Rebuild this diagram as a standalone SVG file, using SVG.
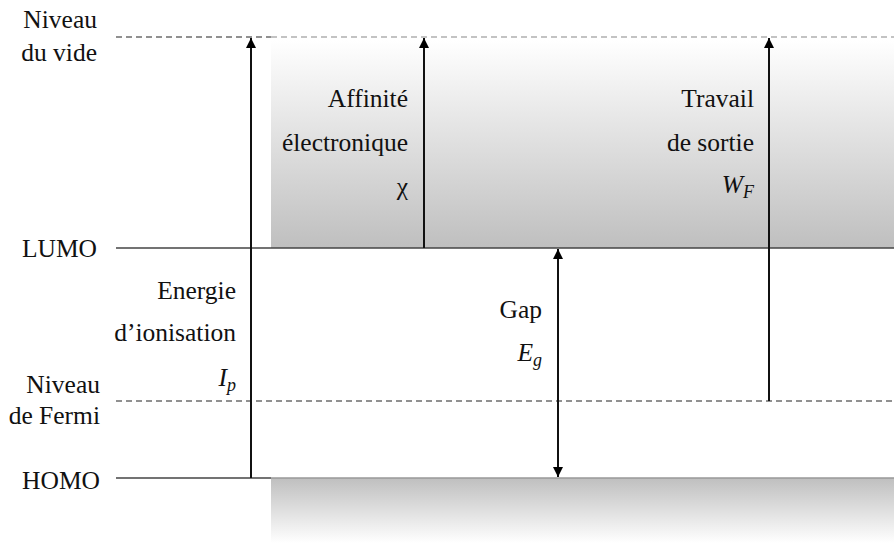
<svg xmlns="http://www.w3.org/2000/svg" width="894" height="543" viewBox="0 0 894 543">
<defs>
<linearGradient id="gTop" x1="0" y1="0" x2="0" y2="1">
<stop offset="0" stop-color="#ffffff"/>
<stop offset="1" stop-color="#bfbfbf"/>
</linearGradient>
<linearGradient id="gBot" x1="0" y1="0" x2="0" y2="1">
<stop offset="0" stop-color="#bfbfbf"/>
<stop offset="1" stop-color="#ffffff"/>
</linearGradient>
<marker id="ah" viewBox="0 0 10 10" refX="10" refY="5" markerWidth="10" markerHeight="10" markerUnits="userSpaceOnUse" orient="auto-start-reverse">
<path d="M0,0 L10,5 L0,10 z" fill="#000"/>
</marker>
<style>
.t{font-family:'Liberation Serif','Times New Roman',serif;font-size:25.5px;fill:#111;}
.r{text-anchor:end;}
.i{font-style:italic;}
.lvl{stroke:#444;stroke-width:1.6;fill:none;}
.dash{stroke:#222;stroke-width:1.2;stroke-dasharray:6,4;fill:none;}
.dashl{stroke:#888;stroke-width:1.2;stroke-dasharray:6,4;fill:none;}
.arr{stroke:#111;stroke-width:2;fill:none;}
</style>
</defs>
<g id="bands">
<rect x="271" y="40" width="623" height="208" fill="url(#gTop)"/>
<rect x="271" y="478" width="623" height="65" fill="url(#gBot)"/>
</g>
<g id="levels">
<line class="dash" x1="116" y1="37" x2="271" y2="37"/>
<line class="dashl" x1="271" y1="37" x2="894" y2="37"/>
<line class="lvl" x1="116" y1="248" x2="894" y2="248"/>
<line class="dash" x1="116" y1="401" x2="894" y2="401"/>
<line class="lvl" x1="116" y1="478" x2="271" y2="478"/>
<line x1="271" y1="478" x2="894" y2="478" stroke="#999" stroke-width="1.6"/>
</g>
<g id="connectors">
<line class="arr" x1="251" y1="478" x2="251" y2="38" marker-end="url(#ah)"/>
<line class="arr" x1="424" y1="248" x2="424" y2="38" stroke="#333" marker-end="url(#ah)"/>
<line class="arr" x1="769" y1="401" x2="769" y2="38" marker-end="url(#ah)"/>
<line class="arr" x1="558" y1="249" x2="558" y2="477" marker-start="url(#ah)" marker-end="url(#ah)"/>
</g>
<g>
<g id="label-vide">
<text class="t r" x="97" y="28">Niveau</text>
<text class="t r" x="97" y="61">du vide</text>
</g>
<g id="label-lumo"><text class="t r" x="97" y="257">LUMO</text></g>
<g id="label-fermi">
<text class="t r" x="100" y="393">Niveau</text>
<text class="t r" x="100" y="424">de Fermi</text>
</g>
<g id="label-homo"><text class="t r" x="100" y="489">HOMO</text></g>
<g id="label-ionisation">
<text class="t r" x="236" y="299">Energie</text>
<text class="t r" x="236" y="341">d’ionisation</text>
<text class="t r i" x="236" y="386">I<tspan font-size="18" dy="5">p</tspan></text>
</g>
<g id="label-affinite">
<text class="t r" x="408" y="107">Affinité</text>
<text class="t r" x="408" y="151">électronique</text>
<text class="t r" x="408" y="195">χ</text>
</g>
<g id="label-travail">
<text class="t r" x="754" y="107">Travail</text>
<text class="t r" x="754" y="151">de sortie</text>
<text class="t r i" x="754" y="193">W<tspan font-size="18" dy="5">F</tspan></text>
</g>
<g id="label-gap">
<text class="t r" x="542" y="318">Gap</text>
<text class="t r i" x="542" y="361">E<tspan font-size="18" dy="5">g</tspan></text>
</g>
</g>
</svg>
